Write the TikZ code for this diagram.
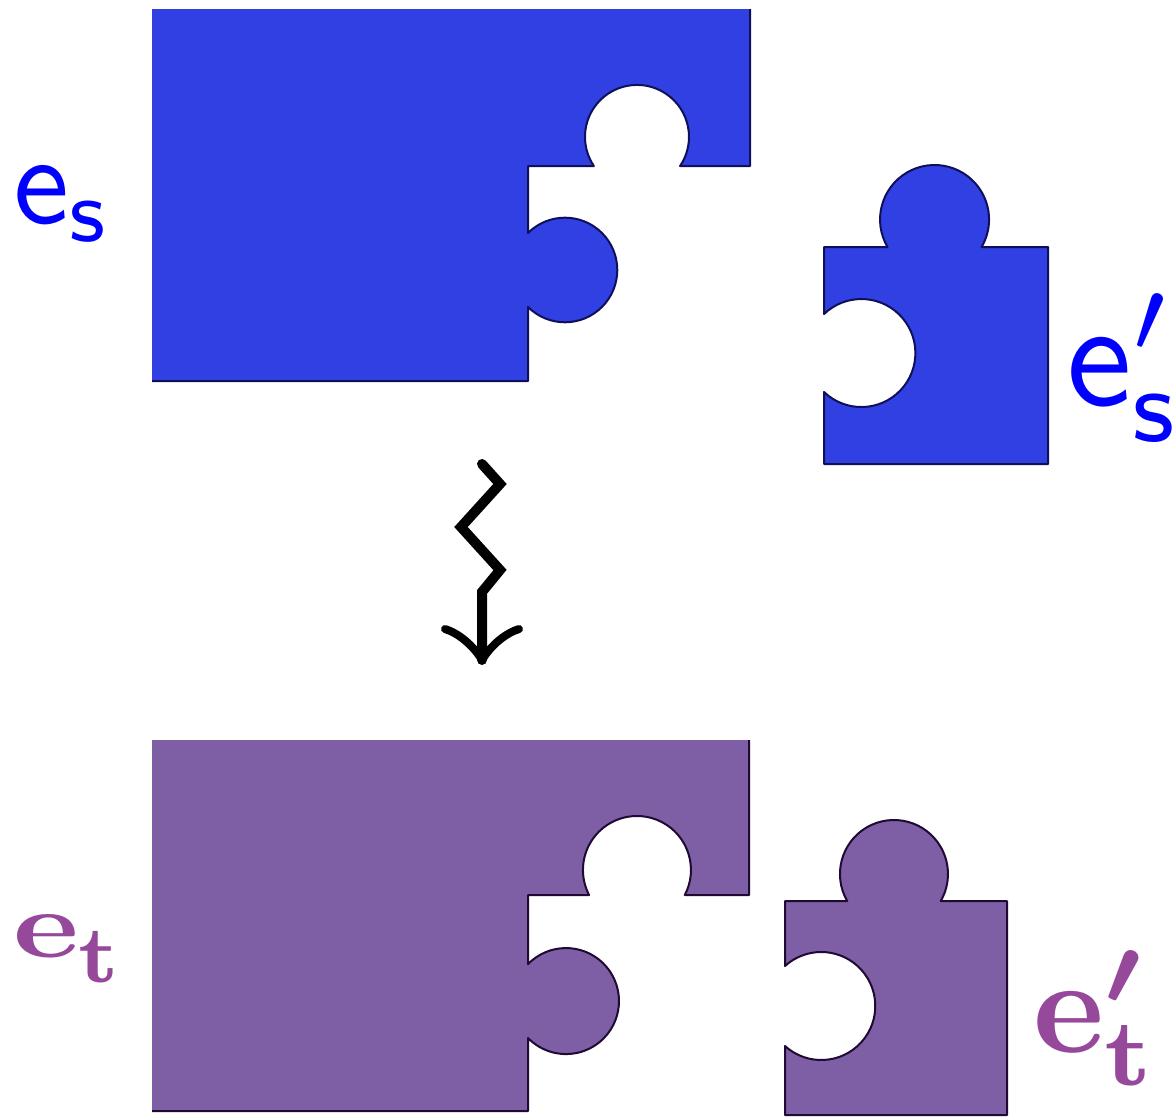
\documentclass[tikz,border=0pt]{standalone}
\usepackage{graphicx}
\usepackage{bm}
\definecolor{pblue}{RGB}{49,64,226}
\definecolor{ppurple}{RGB}{126,94,165}
\definecolor{lblue}{RGB}{0,0,255}
\definecolor{lpurple}{RGB}{150,72,155}
\definecolor{eblue}{RGB}{15,15,90}
\definecolor{epurple}{RGB}{30,10,50}
\begin{document}
\begin{tikzpicture}[x=1pt,y=1pt,
  edge/.style={line width=2pt, line join=round},
  lbl/.style={inner sep=0pt, anchor=base west},
  squig/.style={line width=10pt, line cap=round, line join=miter},
  barb/.style={line width=8pt, line cap=round}]
\useasboundingbox (0,0) rectangle (1173,-1117);

% ---- top large piece (blue)
\fill[pblue] (152,-9) -- (750,-9) -- (750,-166) -- (680.1,-166)
  arc[start angle=-34, end angle=214, radius=52] -- (528,-166) -- (528,-233)
  arc[start angle=135, end angle=-135, radius=52.3] -- (528,-381) -- (152,-381) -- cycle;
\draw[edge, eblue] (750,-9) -- (750,-166) -- (680.1,-166)
  arc[start angle=-34, end angle=214, radius=52] -- (528,-166) -- (528,-233)
  arc[start angle=135, end angle=-135, radius=52.3] -- (528,-381) -- (152,-381);

% ---- top small piece (blue)
\filldraw[edge, fill=pblue, draw=eblue] (824,-247) -- (887.5,-247)
  arc[start angle=210.3, end angle=-30.3, radius=54.5] -- (1048,-247) -- (1048,-464)
  -- (824,-464) -- (824,-392) arc[start angle=-133.8, end angle=133.8, radius=54] -- cycle;

% ---- bottom large piece (purple)
\fill[ppurple] (152,-740) -- (749,-740) -- (749,-895) -- (684.8,-895)
  arc[start angle=-27.6, end angle=207.6, radius=54] -- (528,-895) -- (528,-964.1)
  arc[start angle=135.8, end angle=-135.8, radius=53] -- (528,-1111) -- (152,-1111) -- cycle;
\draw[edge, epurple] (749,-740) -- (749,-895) -- (684.8,-895)
  arc[start angle=-27.6, end angle=207.6, radius=54] -- (528,-895) -- (528,-964.1)
  arc[start angle=135.8, end angle=-135.8, radius=53] -- (528,-1111) -- (152,-1111);

% ---- bottom small piece (purple)
\filldraw[edge, fill=ppurple, draw=epurple] (785,-901) -- (847.2,-901)
  arc[start angle=210, end angle=-30, radius=54] -- (1007,-901) -- (1007,-1115)
  -- (785,-1115) -- (785,-1046) arc[start angle=-132.2, end angle=132.2, radius=54] -- cycle;

% ---- labels
\node[lbl, lblue, scale=12.6] (es) at (11,-223) {$\mathsf{e}_{\mathsf{s}}$};
\node[lbl, lblue, scale=14.8] (esp) at (1064,-405) {$\mathsf{e}'_{\mathsf{s}}$};
\node[lbl, lpurple, scale=10] (et) at (11,-957)
  {\scalebox{1.25}[0.95]{$\mathbf{e}$}\raisebox{-0.25em}{\scalebox{1.15}{$\scriptstyle\mathbf{t}$}}};
\node[lbl, lpurple, scale=13.5] (etp) at (1031,-1052) {$\bm{\mathbf{e}'_{\mathbf{t}}}$};

% ---- squiggly arrow
\coordinate (z0) at (482,-464);
\coordinate (z1) at (500,-484);
\coordinate (z2) at (461,-527);
\coordinate (z3) at (500,-570);
\coordinate (z4) at (482,-592);
\coordinate (tip) at (482,-660);
\coordinate (hl) at (445,-629);
\coordinate (hr) at (519,-629);
\draw[squig] (z0) -- (z1) -- (z2) -- (z3) -- (z4) -- (tip);
\draw[barb] (hl) .. controls (458,-633) and (473,-645) .. (tip);
\draw[barb] (hr) .. controls (506,-633) and (491,-645) .. (tip);
\end{tikzpicture}
\end{document}
